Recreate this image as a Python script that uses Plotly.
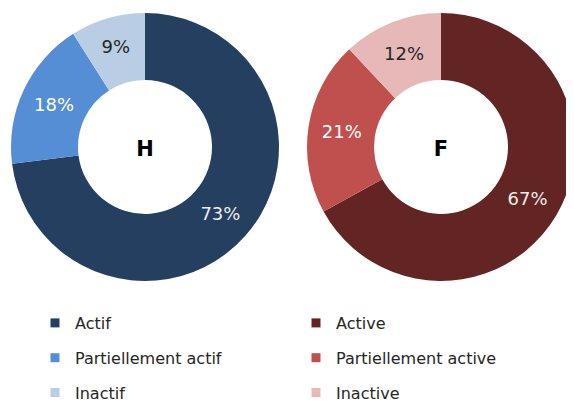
import plotly.graph_objects as go

labels_h = ["Actif", "Partiellement actif", "Inactif"]
values_h = [73, 18, 9]
colors_h = ["#243F60", "#558ED5", "#B9CDE5"]
textcolors_h = ["#EDEDED", "#FFFFFF", "#262626"]

labels_f = ["Active", "Partiellement active", "Inactive"]
values_f = [67, 21, 12]
colors_f = ["#632523", "#C0504D", "#E6B9B8"]
textcolors_f = ["#EDEDED", "#FFFFFF", "#262626"]

W, H = 574, 405
FONT = "DejaVu Sans"
OFF = 8  # page body margin offset

fig = go.Figure()

def pie(labels, values, colors, tcolors, title, cx, cy, r):
    return go.Pie(
        labels=labels, values=values, sort=False, direction="clockwise", rotation=0,
        hole=0.5, marker=dict(colors=colors, line=dict(width=0)),
        textinfo="percent", textposition="inside", insidetextorientation="horizontal",
        textfont=dict(family=FONT, size=18, color=tcolors),
        title=dict(text="<b>%s</b>" % title, position="middle center",
                   font=dict(family=FONT, size=21, color="#000000")),
        domain=dict(x=[(cx - r - OFF) / W, (cx + r - OFF) / W],
                    y=[(H - (cy + r - OFF)) / H, (H - (cy - r - OFF)) / H]),
        showlegend=False, hoverinfo="skip",
    )

fig.add_trace(pie(labels_h, values_h, colors_h, textcolors_h, "H", 145, 147, 134))
fig.add_trace(pie(labels_f, values_f, colors_f, textcolors_f, "F", 441, 147, 134))

for i, (lab, col) in enumerate(zip(labels_h, colors_h)):
    fig.add_trace(go.Scatter(x=[None], y=[None], mode="markers", name=lab,
                             marker=dict(symbol="square", size=9, color=col),
                             legendgroup="h%d" % i, legend="legend", hoverinfo="skip"))
for i, (lab, col) in enumerate(zip(labels_f, colors_f)):
    fig.add_trace(go.Scatter(x=[None], y=[None], mode="markers", name=lab,
                             marker=dict(symbol="square", size=9, color=col),
                             legendgroup="f%d" % i, legend="legend2", hoverinfo="skip"))

leg_common = dict(orientation="v", xanchor="left", yanchor="top", y=(H - 298) / H,
                  font=dict(family=FONT, size=16, color="#262626"),
                  tracegroupgap=11, bgcolor="rgba(0,0,0,0)", itemclick=False,
                  itemdoubleclick=False)

fig.update_layout(
    width=W, height=H, margin=dict(l=0, r=0, t=0, b=0, autoexpand=False),
    paper_bgcolor="white", plot_bgcolor="white",
    xaxis=dict(visible=False), yaxis=dict(visible=False),
    legend=dict(x=27 / W, **leg_common),
    legend2=dict(x=288 / W, **leg_common),
)

fig.write_html("out.html")
